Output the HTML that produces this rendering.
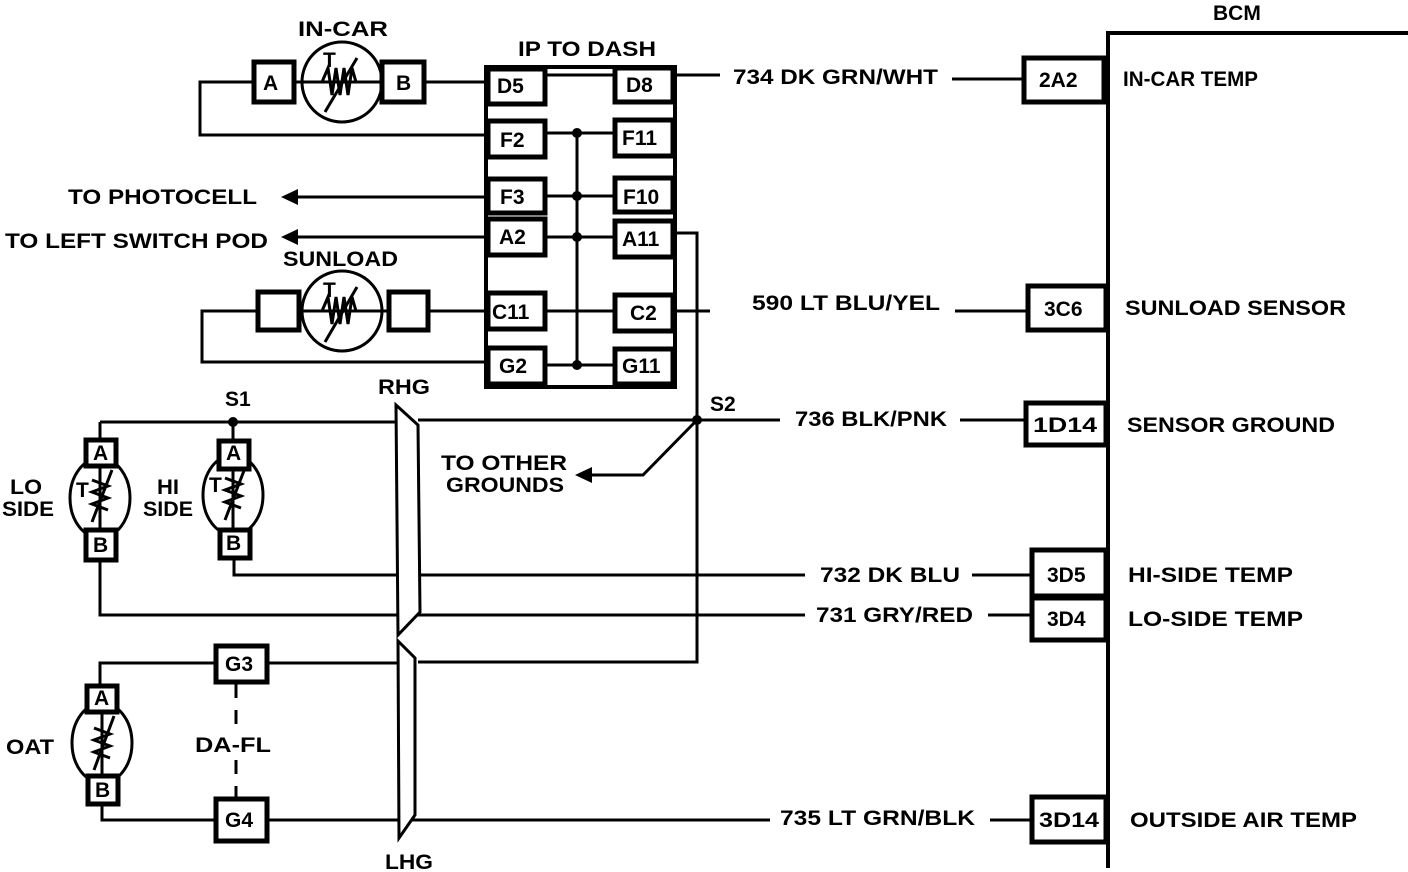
<!DOCTYPE html>
<html><head><style>
html,body{margin:0;padding:0;background:#fff}
svg{display:block}
text{font-family:"Liberation Sans",Arial,sans-serif;font-weight:bold;font-size:21px;fill:#000}
rect{fill:#fff}
</style></head><body>
<svg width="1408" height="872" viewBox="0 0 1408 872" xmlns="http://www.w3.org/2000/svg">
<g fill="none" stroke="#000" stroke-width="3">
<polyline points="1108,868 1108,33 1408,33" stroke-width="4"/>
<rect x="486" y="67" width="189" height="320" stroke-width="4"/>
<line x1="545" y1="75" x2="615" y2="75"/>
<line x1="545" y1="133" x2="615" y2="133"/>
<line x1="545" y1="196" x2="615" y2="196"/>
<line x1="545" y1="237" x2="615" y2="237"/>
<line x1="545" y1="311" x2="615" y2="311"/>
<line x1="545" y1="365" x2="615" y2="365"/>
<line x1="577" y1="133" x2="577" y2="365"/>
<g stroke-width="5">
<rect x="488" y="69" width="57" height="35"/>
<rect x="488" y="121" width="57" height="36"/>
<rect x="488" y="179" width="57" height="34"/>
<rect x="488" y="219" width="57" height="36"/>
<rect x="488" y="293" width="57" height="36"/>
<rect x="488" y="348" width="57" height="36"/>
<rect x="615" y="68" width="58" height="34"/>
<rect x="615" y="120" width="58" height="36"/>
<rect x="615" y="178" width="58" height="34"/>
<rect x="615" y="221" width="58" height="36"/>
<rect x="615" y="295" width="58" height="36"/>
<rect x="615" y="349" width="58" height="35"/>
</g>
<!-- IN-CAR -->
<circle cx="342" cy="82" r="40"/>
<line x1="294" y1="82" x2="382" y2="82"/>
<rect x="254" y="62" width="40" height="40" stroke-width="5"/>
<rect x="382" y="62" width="42" height="40" stroke-width="5"/>
<line x1="424" y1="82" x2="488" y2="82"/>
<polyline points="254,82 200,82 200,135 488,135"/>
<polyline points="322,82 328,68 332,95 336,68 340,95 344,68 348,95 352,68 356,82" stroke-width="3"/>
<line x1="325" y1="112" x2="357" y2="58"/>
<!-- SUNLOAD -->
<circle cx="342" cy="311" r="40"/>
<line x1="299" y1="311" x2="389" y2="311"/>
<rect x="258" y="292" width="41" height="38" stroke-width="5"/>
<rect x="389" y="292" width="39" height="38" stroke-width="5"/>
<line x1="428" y1="311" x2="488" y2="311"/>
<polyline points="258,311 202,311 202,362 488,362"/>
<polyline points="322,311 328,297 332,324 336,297 340,324 344,297 348,324 352,297 356,311"/>
<line x1="325" y1="342" x2="357" y2="287"/>
<line x1="295" y1="197" x2="488" y2="197"/>
<line x1="295" y1="237" x2="488" y2="237"/>
<line x1="673" y1="75" x2="720" y2="75"/>
<line x1="952" y1="79" x2="1024" y2="79"/>
<rect x="1024" y="58" width="80" height="44" stroke-width="5"/>
<line x1="673" y1="311" x2="710" y2="311"/>
<line x1="955" y1="311" x2="1028" y2="311"/>
<rect x="1028" y="286" width="78" height="44" stroke-width="5"/>
<polyline points="673,233 697,233 697,662 418,662"/>
<line x1="100" y1="422" x2="396" y2="422"/>
<line x1="418" y1="420" x2="780" y2="420"/>
<line x1="960" y1="420" x2="1026" y2="420"/>
<rect x="1026" y="403" width="80" height="42" stroke-width="5"/>
<polyline points="697,420 643,475 588,475"/>
<polyline points="234,558 234,575 805,575"/>
<line x1="972" y1="575" x2="1032" y2="575"/>
<polyline points="100,560 100,615 805,615"/>
<line x1="988" y1="615" x2="1032" y2="615"/>
<rect x="1032" y="550" width="74" height="46" stroke-width="5"/>
<rect x="1032" y="598" width="74" height="42" stroke-width="5"/>
<line x1="268" y1="820" x2="770" y2="820"/>
<line x1="990" y1="820" x2="1032" y2="820"/>
<rect x="1032" y="797" width="74" height="45" stroke-width="5"/>
<!-- LO sensor -->
<line x1="100" y1="422" x2="100" y2="440"/>
<ellipse cx="100" cy="498" rx="30" ry="40"/>
<line x1="100" y1="466" x2="100" y2="530"/>
<rect x="86" y="440" width="30" height="26" stroke-width="5"/>
<rect x="86" y="530" width="30" height="30" stroke-width="5"/>
<polyline points="92,480 108,486 92,492 108,498 92,504 108,510"/>
<line x1="92" y1="522" x2="112" y2="470"/>
<!-- HI sensor -->
<line x1="233" y1="422" x2="233" y2="440"/>
<ellipse cx="233" cy="495" rx="30" ry="40"/>
<line x1="233" y1="469" x2="233" y2="530"/>
<rect x="219" y="441" width="30" height="28" stroke-width="5"/>
<rect x="220" y="530" width="30" height="28" stroke-width="5"/>
<polyline points="225,478 241,484 225,490 241,496 225,502 241,508"/>
<line x1="225" y1="520" x2="245" y2="468"/>
<!-- OAT -->
<polyline points="268,663 100,663 100,686"/>
<ellipse cx="102" cy="743" rx="30" ry="40"/>
<line x1="102" y1="712" x2="102" y2="776"/>
<rect x="87" y="686" width="30" height="26" stroke-width="5"/>
<rect x="88" y="776" width="30" height="28" stroke-width="5"/>
<polyline points="94,728 110,734 94,740 110,746 94,752 110,758"/>
<line x1="94" y1="770" x2="114" y2="716"/>
<polyline points="102,804 102,820 216,820"/>
<rect x="216" y="646" width="51" height="36" stroke-width="5"/>
<rect x="216" y="799" width="51" height="42" stroke-width="5"/>
<line x1="236" y1="684" x2="236" y2="730" stroke-dasharray="14,12"/>
<line x1="236" y1="760" x2="236" y2="798" stroke-dasharray="14,12"/>
<line x1="268" y1="663" x2="400" y2="663"/>
<polygon points="396,405 418,425 420,612 398,635" fill="#fff" stroke-width="3"/>
<polygon points="398,641 415,658 415,815 399,838" fill="#fff" stroke-width="3"/>
</g>
<g fill="#000">
<polygon points="281,197 298,189 298,205"/>
<polygon points="281,237 298,229 298,245"/>
<polygon points="575,475 592,467 592,483"/>
<circle cx="577" cy="133" r="5"/><circle cx="577" cy="196" r="5"/>
<circle cx="577" cy="237" r="5"/><circle cx="577" cy="365" r="5"/>
<circle cx="233" cy="422" r="5"/><circle cx="697" cy="420" r="5"/>
</g>
<text x="298" y="36" textLength="90" lengthAdjust="spacingAndGlyphs">IN-CAR</text>
<text x="518" y="56" textLength="138" lengthAdjust="spacingAndGlyphs">IP TO DASH</text>
<text x="1213" y="20">BCM</text>
<text x="263" y="90" font-size="19">A</text>
<text x="396" y="90" font-size="19">B</text>
<text x="497" y="93" font-size="19">D5</text>
<text x="626" y="92" font-size="19">D8</text>
<text x="500" y="147" font-size="19">F2</text>
<text x="622" y="145" font-size="19">F11</text>
<text x="500" y="204" font-size="19">F3</text>
<text x="623" y="204" font-size="19">F10</text>
<text x="499" y="244" font-size="19">A2</text>
<text x="622" y="246" font-size="19">A11</text>
<text x="492" y="319" font-size="19">C11</text>
<text x="630" y="320" font-size="19">C2</text>
<text x="499" y="373" font-size="19">G2</text>
<text x="622" y="373" font-size="19">G11</text>
<text x="68" y="204" textLength="189" lengthAdjust="spacingAndGlyphs">TO PHOTOCELL</text>
<text x="5" y="248" textLength="263" lengthAdjust="spacingAndGlyphs">TO LEFT SWITCH POD</text>
<text x="283" y="266" textLength="115" lengthAdjust="spacingAndGlyphs">SUNLOAD</text>
<text x="733" y="84" textLength="205" lengthAdjust="spacingAndGlyphs">734 DK GRN/WHT</text>
<text x="1123" y="86" textLength="135" lengthAdjust="spacingAndGlyphs">IN-CAR TEMP</text>
<text x="1039" y="87" font-size="19">2A2</text>
<text x="752" y="310" textLength="188" lengthAdjust="spacingAndGlyphs">590 LT BLU/YEL</text>
<text x="1044" y="316" font-size="19">3C6</text>
<text x="1125" y="315" textLength="221" lengthAdjust="spacingAndGlyphs">SUNLOAD SENSOR</text>
<text x="378" y="394" textLength="52" lengthAdjust="spacingAndGlyphs">RHG</text>
<text x="225" y="406" font-size="19">S1</text>
<text x="710" y="411" font-size="19">S2</text>
<text x="795" y="426" textLength="152" lengthAdjust="spacingAndGlyphs">736 BLK/PNK</text>
<text x="1033" y="432" font-size="19" textLength="64" lengthAdjust="spacingAndGlyphs">1D14</text>
<text x="1127" y="432" textLength="208" lengthAdjust="spacingAndGlyphs">SENSOR GROUND</text>
<text x="441" y="470" textLength="126" lengthAdjust="spacingAndGlyphs">TO OTHER</text>
<text x="446" y="492" textLength="118" lengthAdjust="spacingAndGlyphs">GROUNDS</text>
<text x="93" y="460" font-size="17">A</text>
<text x="226" y="460" font-size="17">A</text>
<text x="93" y="552" font-size="17">B</text>
<text x="226" y="550" font-size="17">B</text>
<text x="76" y="497" font-size="15">T</text>
<text x="209" y="492" font-size="15">T</text>
<text x="10" y="494" textLength="32" lengthAdjust="spacingAndGlyphs">LO</text>
<text x="2" y="516" textLength="52" lengthAdjust="spacingAndGlyphs">SIDE</text>
<text x="157" y="494" textLength="22" lengthAdjust="spacingAndGlyphs">HI</text>
<text x="143" y="516" textLength="50" lengthAdjust="spacingAndGlyphs">SIDE</text>
<text x="820" y="582" textLength="140" lengthAdjust="spacingAndGlyphs">732 DK BLU</text>
<text x="1047" y="582" font-size="19">3D5</text>
<text x="1128" y="582" textLength="165" lengthAdjust="spacingAndGlyphs">HI-SIDE TEMP</text>
<text x="816" y="622" textLength="157" lengthAdjust="spacingAndGlyphs">731 GRY/RED</text>
<text x="1047" y="626" font-size="19">3D4</text>
<text x="1128" y="626" textLength="175" lengthAdjust="spacingAndGlyphs">LO-SIDE TEMP</text>
<text x="225" y="671" font-size="19">G3</text>
<text x="225" y="827" font-size="19">G4</text>
<text x="94" y="705" font-size="17">A</text>
<text x="95" y="797" font-size="17">B</text>
<text x="6" y="754" textLength="48" lengthAdjust="spacingAndGlyphs">OAT</text>
<text x="195" y="752" textLength="76" lengthAdjust="spacingAndGlyphs">DA-FL</text>
<text x="780" y="825" textLength="195" lengthAdjust="spacingAndGlyphs">735 LT GRN/BLK</text>
<text x="1039" y="827" font-size="19" textLength="60" lengthAdjust="spacingAndGlyphs">3D14</text>
<text x="1130" y="827" textLength="227" lengthAdjust="spacingAndGlyphs">OUTSIDE AIR TEMP</text>
<text x="385" y="869" textLength="48" lengthAdjust="spacingAndGlyphs">LHG</text>
<text x="323" y="67" font-size="15">T</text>
<text x="323" y="297" font-size="15">T</text>
</svg>
</body></html>
